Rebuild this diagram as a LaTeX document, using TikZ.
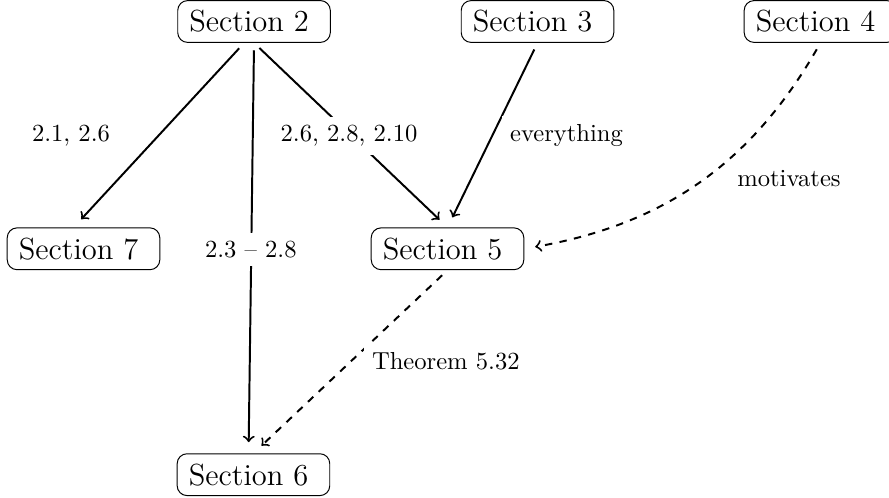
\documentclass[tikz,border=0pt]{standalone}
\usepackage{tikz}

\begin{document}
\begin{tikzpicture}[thick,
        sec/.style={draw, thin, rounded corners=4pt, font=\fontsize{12.4}{15}\selectfont, inner xsep=4.7pt, inner ysep=4pt},
        lbl/.style={anchor=base, fill=white},
        link/.style={->, shorten <=3pt, shorten >=4.5pt}]
        \useasboundingbox (0,0) rectangle (12.70,-7.10);

        \node[sec] (s2) at (3.629,-0.307) {Section 2\ \kern0pt};
        \node[sec] (s3) at (7.679,-0.307) {Section 3\ \kern0pt};
        \node[sec] (s4) at (11.721,-0.307) {Section 4\ \kern0pt};
        \node[sec] (s7) at (1.193,-3.554) {Section 7\ \kern0pt};
        \node[sec] (s5) at (6.393,-3.554) {Section 5\ \kern0pt};
        \node[sec] (s6) at (3.621,-6.781) {Section 6\ \kern0pt};

        \draw[link] ([xshift=-4pt]s2.south) -- ([xshift=-4pt]s7.north);
        \draw[link] (s2.south) -- ([xshift=-2pt]s6.north);
        \draw[link] (s2.south) -- (s5.north);
        \draw[link] (s3.south) -- (s5.north);
        \draw[link, dashed] (s5.south) -- (s6.north);
        \draw[link, dashed] (s4.south) to[out=-120, in=10] (s5.east);

        \node[lbl] (l1) at (1.014,-2.024) {2.1, 2.6};
        \node[lbl] (l2) at (4.986,-2.024) {2.6, 2.8, 2.10};
        \node[lbl] (l3) at (8.093,-2.024) {everything};
        \node[lbl] (l4) at (11.271,-2.667) {motivates};
        \node[lbl] (l5) at (3.583,-3.676) {2.3 -- 2.8};
        \node[lbl] (l6) at (6.369,-5.276) {Theorem 5.32};
    \end{tikzpicture}
\end{document}
